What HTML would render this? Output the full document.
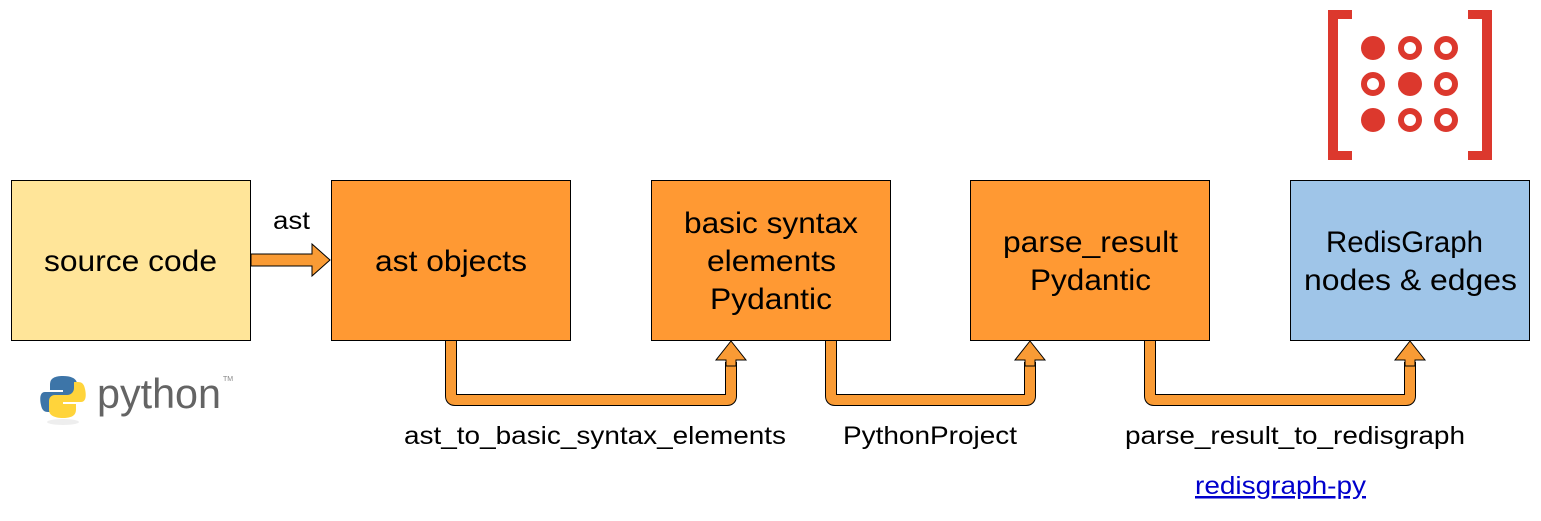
<!DOCTYPE html>
<html><head><meta charset="utf-8"><style>
html,body{margin:0;padding:0;background:#fff;}
svg{display:block;font-family:"Liberation Sans",sans-serif;}
</style></head><body>
<svg width="1541" height="521" viewBox="0 0 1541 521" xmlns="http://www.w3.org/2000/svg">
<rect x="11.5" y="180.5" width="239" height="160" fill="#ffe599" stroke="#000" stroke-width="1"/>
<rect x="331.5" y="180.5" width="239" height="160" fill="#ff9933" stroke="#000" stroke-width="1"/>
<rect x="651.5" y="180.5" width="239" height="160" fill="#ff9933" stroke="#000" stroke-width="1"/>
<rect x="970.5" y="180.5" width="239" height="160" fill="#ff9933" stroke="#000" stroke-width="1"/>
<rect x="1290.5" y="180.5" width="239" height="160" fill="#9fc5e8" stroke="#000" stroke-width="1"/>
<g font-size="30" fill="#000" lengthAdjust="spacingAndGlyphs">
<text x="44" y="271" textLength="173" lengthAdjust="spacingAndGlyphs">source code</text>
<text x="375" y="271" textLength="152" lengthAdjust="spacingAndGlyphs">ast objects</text>
<text x="684" y="233" textLength="174" lengthAdjust="spacingAndGlyphs">basic syntax</text>
<text x="707" y="271" textLength="129" lengthAdjust="spacingAndGlyphs">elements</text>
<text x="710" y="309" textLength="122" lengthAdjust="spacingAndGlyphs">Pydantic</text>
<text x="1003" y="252" textLength="175" lengthAdjust="spacingAndGlyphs">parse_result</text>
<text x="1030" y="290" textLength="121" lengthAdjust="spacingAndGlyphs">Pydantic</text>
<text x="1326" y="252" textLength="157" lengthAdjust="spacingAndGlyphs">RedisGraph</text>
<text x="1304" y="290" textLength="213" lengthAdjust="spacingAndGlyphs">nodes &amp; edges</text>
</g>
<polygon points="251,254 312,254 312,244 330,260 312,276 312,266 251,266" fill="#f99b35" stroke="#000" stroke-width="1"/>
<text x="273" y="229" font-size="25" textLength="37" lengthAdjust="spacingAndGlyphs">ast</text>
<g fill="none" stroke-linejoin="round">
<path d="M451,341 V396 Q451,400 455,400 H727 Q731,400 731,396 V362" stroke="#000" stroke-width="12"/>
<path d="M451,341 V396 Q451,400 455,400 H727 Q731,400 731,396 V362" stroke="#f99b35" stroke-width="10"/>
<path d="M831,341 V396 Q831,400 835,400 H1026 Q1030,400 1030,396 V362" stroke="#000" stroke-width="12"/>
<path d="M831,341 V396 Q831,400 835,400 H1026 Q1030,400 1030,396 V362" stroke="#f99b35" stroke-width="10"/>
<path d="M1150,341 V396 Q1150,400 1154,400 H1406 Q1410,400 1410,396 V362" stroke="#000" stroke-width="12"/>
<path d="M1150,341 V396 Q1150,400 1154,400 H1406 Q1410,400 1410,396 V362" stroke="#f99b35" stroke-width="10"/>
</g>
<g fill="#f99b35" stroke="#000" stroke-width="1">
<polygon points="731,341 746,360 736,360 736,366 726,366 726,360 716,360"/>
<polygon points="1030,341 1045,360 1035,360 1035,366 1025,366 1025,360 1015,360"/>
<polygon points="1410,341 1425,360 1415,360 1415,366 1405,366 1405,360 1395,360"/>
</g>
<g font-size="25">
<text x="404" y="444" textLength="382" lengthAdjust="spacingAndGlyphs">ast_to_basic_syntax_elements</text>
<text x="843" y="444" textLength="174" lengthAdjust="spacingAndGlyphs">PythonProject</text>
<text x="1125" y="444" textLength="340" lengthAdjust="spacingAndGlyphs">parse_result_to_redisgraph</text>
<text x="1195" y="494" fill="#0000cc" text-decoration="underline" textLength="171" lengthAdjust="spacingAndGlyphs">redisgraph-py</text>
</g>
<g fill="#dc382d">
<rect x="1328" y="10" width="10" height="150"/>
<rect x="1328" y="10" width="24" height="9"/>
<rect x="1328" y="151" width="24" height="9"/>
<rect x="1482" y="10" width="10" height="150"/>
<rect x="1468" y="10" width="24" height="9"/>
<rect x="1468" y="151" width="24" height="9"/>
<circle cx="1373" cy="48" r="12"/>
<circle cx="1410" cy="84" r="12"/>
<circle cx="1373" cy="120" r="12"/>
</g>
<g fill="none" stroke="#dc382d" stroke-width="6">
<circle cx="1410" cy="48" r="9"/>
<circle cx="1446" cy="48" r="9"/>
<circle cx="1373" cy="84" r="9"/>
<circle cx="1446" cy="84" r="9"/>
<circle cx="1410" cy="120" r="9"/>
<circle cx="1446" cy="120" r="9"/>
</g>
<ellipse cx="63" cy="422" rx="16" ry="3" fill="#eee"/>
<path d="M63,376 c-12,0 -13,5 -13,9 v5 h13 v2 h-18 c-6,0 -5,9 -4,13 c1,5 3,7 7,7 h4 v-6 c0,-4 3,-7 7,-7 h12 c4,0 6,-3 6,-6 v-9 c0,-5 -5,-8 -14,-8z" fill="#3d75a8"/>
<path d="M63,418 c12,0 13,-5 13,-9 v-5 h-13 v-2 h18 c6,0 5,-9 4,-13 c-1,-5 -3,-7 -7,-7 h-4 v6 c0,4 -3,7 -7,7 h-12 c-4,0 -6,3 -6,6 v9 c0,5 5,8 14,8z" fill="#ffd43b"/>
<text x="97" y="408" font-size="42" fill="#646464" textLength="124" lengthAdjust="spacingAndGlyphs">python</text>
<text x="223" y="381" font-size="7" fill="#888">TM</text>
</svg>
</body></html>
